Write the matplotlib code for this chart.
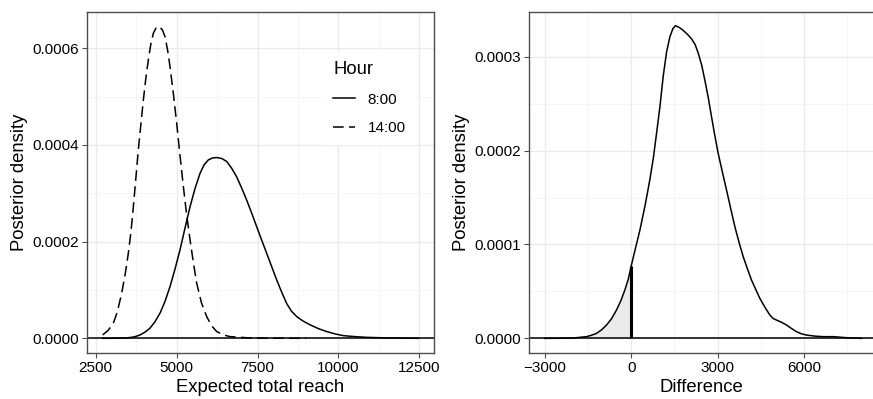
import numpy as np
import matplotlib
matplotlib.use("Agg")
import matplotlib.pyplot as plt
from matplotlib.ticker import MultipleLocator, FuncFormatter

plt.rcParams['font.family'] = ['Liberation Sans', 'DejaVu Sans']

# posterior density of expected total reach, 8:00
reach_8 = [2716, 3000, 3458, 3700, 3870, 4030, 4179, 4330, 4488, 4640, 4797, 4950,
           5106, 5260, 5415, 5570, 5723, 5850, 5981, 6110, 6238, 6390, 6547, 6700,
           6856, 7010, 7165, 7320, 7474, 7630, 7783, 7940, 8092, 8250, 8401, 8550,
           8710, 8900, 9122, 9380, 9637, 9900, 10152, 10500, 10873, 11500, 12470]
dens_8 = [0, 0.1e-6, 0.7e-6, 3e-6, 6.9e-6, 1.3e-5, 2.1e-5, 3.4e-5, 5.2e-5, 7.6e-5,
          1.07e-4, 1.43e-4, 1.83e-4, 2.28e-4, 2.72e-4, 3.1e-4, 3.41e-4, 3.59e-4,
          3.69e-4, 3.73e-4, 3.74e-4, 3.72e-4, 3.66e-4, 3.52e-4, 3.34e-4, 3.11e-4,
          2.86e-4, 2.59e-4, 2.31e-4, 2.03e-4, 1.76e-4, 1.48e-4, 1.21e-4, 9.5e-5,
          7.2e-5, 5.6e-5, 4.5e-5, 3.6e-5, 2.8e-5, 2.0e-5, 1.4e-5, 9e-6, 5.5e-6,
          3.5e-6, 2e-6, 0.8e-6, 0]

# 14:00
reach_14 = [2716, 2880, 3046, 3170, 3303, 3410, 3509, 3590, 3664, 3740, 3818, 3900,
            3973, 4050, 4127, 4200, 4282, 4370, 4467, 4560, 4642, 4720, 4797, 4900,
            5003, 5105, 5209, 5310, 5415, 5520, 5621, 5770, 5930, 6080, 6238, 6450,
            6650, 7268, 8000, 9000]
dens_14 = [0.7e-5, 1.6e-5, 3.1e-5, 5.5e-5, 9.3e-5, 1.32e-4, 1.76e-4, 2.2e-4, 2.72e-4,
           3.3e-4, 3.9e-4, 4.45e-4, 4.93e-4, 5.38e-4, 5.76e-4, 6.07e-4, 6.31e-4,
           6.43e-4, 6.45e-4, 6.38e-4, 6.24e-4, 5.97e-4, 5.62e-4, 5.06e-4, 4.45e-4,
           3.78e-4, 3.14e-4, 2.56e-4, 2.04e-4, 1.56e-4, 1.14e-4, 7.3e-5, 4.5e-5,
           2.6e-5, 1.4e-5, 7e-6, 3.5e-6, 0.7e-6, 0.2e-6, 0]

# posterior density of the difference (8:00 - 14:00)
diff = [-3000, -2500, -2015, -1552, -1380, -1205, -1030, -857, -680, -510, -360, -220,
        -100, 0, 150, 301, 480, 649, 770, 880, 1000, 1112, 1230, 1344, 1450, 1541,
        1680, 1807, 1950, 2097, 2220, 2328, 2450, 2560, 2680, 2792, 2900, 3023, 3170,
        3313, 3460, 3602, 3750, 3892, 4040, 4182, 4330, 4471, 4650, 4819, 4940, 5050,
        5230, 5397, 5570, 5745, 5920, 6093, 6400, 6672, 7020, 7483, 8004]
dens_diff = [0, 0.1e-6, 0.35e-6, 1.8e-6, 3.3e-6, 5.3e-6, 9e-6, 1.42e-5, 2.1e-5, 3.02e-5,
             4.0e-5, 5.15e-5, 6.3e-5, 7.7e-5, 9.6e-5, 1.15e-4, 1.41e-4, 1.69e-4,
             1.92e-4, 2.18e-4, 2.47e-4, 2.79e-4, 3.05e-4, 3.21e-4, 3.30e-4, 3.33e-4,
             3.31e-4, 3.28e-4, 3.24e-4, 3.19e-4, 3.13e-4, 3.04e-4, 2.91e-4, 2.75e-4,
             2.56e-4, 2.36e-4, 2.17e-4, 1.97e-4, 1.77e-4, 1.58e-4, 1.38e-4, 1.19e-4,
             1.02e-4, 8.7e-5, 7.4e-5, 6.2e-5, 5.2e-5, 4.26e-5, 3.3e-5, 2.48e-5, 2.1e-5,
             1.95e-5, 1.7e-5, 1.42e-5, 1.05e-5, 7.1e-6, 4.8e-6, 3.5e-6, 2.3e-6, 1.8e-6,
             1.8e-6, 0.7e-6, 0]


def style(ax, xmaj, ymaj, ydec):
    ax.set_facecolor('white')
    ax.xaxis.set_major_locator(MultipleLocator(xmaj))
    ax.xaxis.set_minor_locator(MultipleLocator(xmaj / 2))
    ax.yaxis.set_major_locator(MultipleLocator(ymaj))
    ax.yaxis.set_minor_locator(MultipleLocator(ymaj / 2))
    ax.grid(which='major', color='#ebebeb', lw=1.0, zorder=0)
    ax.grid(which='minor', color='#f4f4f4', lw=0.6, zorder=0)
    ax.set_axisbelow(True)
    for s in ax.spines.values():
        s.set_color('#4d4d4d')
        s.set_linewidth(1.0)
    ax.tick_params(which='major', length=3.5, width=0.8, color='#4d4d4d',
                   labelsize=11, labelcolor='black', pad=2.5)
    ax.tick_params(which='minor', length=0)
    ax.yaxis.set_major_formatter(FuncFormatter(lambda v, p: f"{v:.{ydec}f}"))
    ax.xaxis.set_major_formatter(
        FuncFormatter(lambda v, p: f"{v:.0f}".replace('-', '\u2212')))


fig = plt.figure(figsize=(8.73, 3.99), dpi=100)

# left panel
ax1 = fig.add_axes([87 / 873, 46 / 399, 347 / 873, 341 / 399])
style(ax1, 2500, 0.0002, 4)
ax1.axhline(0, color='black', lw=1.1, zorder=2)
l1, = ax1.plot(reach_8, dens_8, color='black', lw=1.1, label='8:00', zorder=3)
l2, = ax1.plot(reach_14, dens_14, color='black', lw=1.1, ls=(0, (7, 3.5)),
               label='14:00', zorder=3)
ax1.set_xlim(2232, 12953)
ax1.set_ylim(-3.04e-5, 6.75e-4)
ax1.set_xlabel('Expected total reach', fontsize=13.3, labelpad=3)
ax1.set_ylabel('Posterior density', fontsize=13.3, labelpad=3)
leg = ax1.legend(handles=[l1, l2], title='Hour', loc='upper left',
                 bbox_to_anchor=(237 / 347, 1 - 40 / 341), borderaxespad=0,
                 frameon=True, fancybox=False, framealpha=1, edgecolor='white',
                 fontsize=11, title_fontsize=13.3, handlelength=1.4,
                 handletextpad=0.85, labelspacing=0.95, borderpad=0.6)
leg._legend_box.align = 'left'

# right panel
ax2 = fig.add_axes([529 / 873, 46 / 399, 344 / 873, 341 / 399])
style(ax2, 3000, 0.0001, 4)
ax2.spines['right'].set_visible(False)
d = np.array(diff)
dd = np.array(dens_diff)
ax2.fill_between(d, 0, dd, where=d <= 0, color='#ebebeb', lw=0, zorder=1)
ax2.axhline(0, color='black', lw=1.1, zorder=2)
ax2.plot(diff, dens_diff, color='black', lw=1.1, zorder=3)
ax2.vlines(0, 0, dd[d == 0][0], color='black', lw=2.2, zorder=4)
ax2.set_xlim(-3550, 8402)
ax2.set_ylim(-1.56e-5, 3.476e-4)
ax2.set_xlabel('Difference', fontsize=13.3, labelpad=3)
ax2.set_ylabel('Posterior density', fontsize=13.3, labelpad=3)

fig.savefig('out.png', dpi=100)
